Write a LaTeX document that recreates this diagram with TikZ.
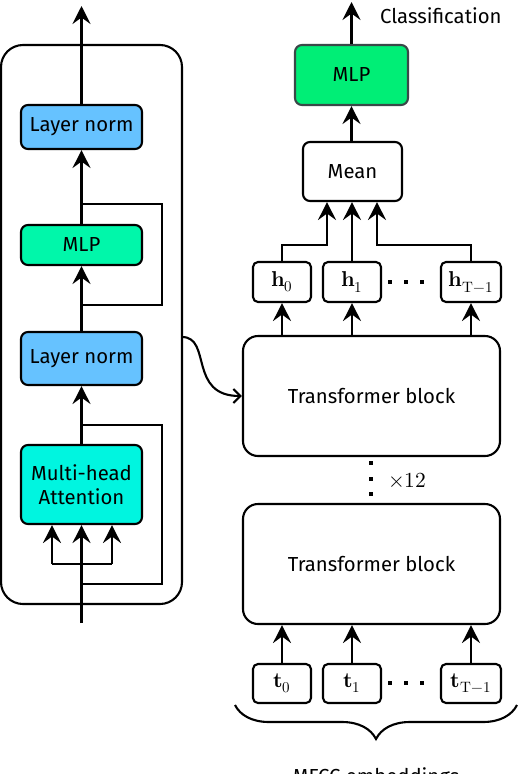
\documentclass[tikz,border=0pt]{standalone}
\usepackage{fontspec}
\usepackage{unicode-math}
\setmainfont{Fira Sans}
\setmathfont{Latin Modern Math}
\usetikzlibrary{arrows.meta,decorations.pathreplacing,calc}
\definecolor{lnblue}{HTML}{66C2FF}
\definecolor{mlpmint}{HTML}{00F7AA}
\definecolor{mhacyan}{HTML}{00F5E0}
\definecolor{mlpgreen}{HTML}{00EE76}
\definecolor{mlpedge}{HTML}{3A4848}
\tikzset{
  box/.style={draw, line width=2.1pt, rounded corners=7pt, inner sep=0pt, align=center,
     font=\fontsize{20.3}{24}\selectfont},
  bigbox/.style={box, rounded corners=15pt},
  tok/.style={draw, line width=2.1pt, rounded corners=5pt, inner sep=0pt,
     minimum height=39pt, font=\fontsize{21.5}{25}\selectfont},
  arr/.style={-{Stealth[length=18pt,width=18pt,inset=6.5pt]}, line width=2.1pt},
  ln/.style={line width=2.1pt},
  dotmark/.style={fill=black, minimum size=4.5pt, inner sep=0pt, draw=none},
  lbl/.style={font=\fontsize{20.3}{24}\selectfont, inner sep=0pt},
}
\begin{document}
\begin{tikzpicture}[x=1pt,y=-1pt]
\useasboundingbox (0,0) rectangle (518,774);
% left panel
\node[draw, line width=2.1pt, rounded corners=22pt, minimum width=181pt, minimum height=559pt] (outer) at (91.5,324.5) {};
\coordinate (in) at (81.5,623);
\coordinate (out) at (81.5,6);
\coordinate (r1a) at (81.5,584);
\coordinate (r1b) at (81.5,425);
\coordinate (r2a) at (81.5,305);
\coordinate (r2b) at (81.5,204);
\coordinate (sL) at (52,564);
\coordinate (sR) at (112,564);
\coordinate (c1) at (182,337);
\draw[ln] (r1a) -- ++(80.5,0) |- (r1b);
\draw[ln] (r2a) -- ++(80.5,0) |- (r2b);
\node[box, fill=lnblue, minimum width=121pt, minimum height=44pt] (ln1) at (81.5,127) {Layer norm};
\node[box, fill=mlpmint, minimum width=121pt, minimum height=40pt] (mlpl) at (81.5,245) {MLP};
\node[box, fill=lnblue, minimum width=121pt, minimum height=53pt] (ln2) at (81.5,358.5) {Layer norm};
\node[box, fill=mhacyan, minimum width=121pt, minimum height=79pt] (mha) at (81.5,484.5) {Multi-head\\[0pt]Attention};
\draw[arr] (in) -- (mha.south);
\draw[ln] (sL) -- (sR);
\draw[arr] (sL) -- (sL |- mha.south);
\draw[arr] (sR) -- (sR |- mha.south);
\draw[arr] (mha.north) -- (ln2.south);
\draw[arr] (ln2.north) -- (mlpl.south);
\draw[arr] (mlpl.north) -- (ln1.south);
\draw[arr] (ln1.north) -- (out);
% right panel
\node[bigbox, minimum width=257pt, minimum height=120pt] (tb1) at (371.5,396) {Transformer block};
\node[bigbox, minimum width=257pt, minimum height=120pt] (tb2) at (371.5,564) {Transformer block};
\draw[ln, -{Straight Barb[length=7pt,width=14pt]}] (c1) .. controls (212,337) and (188,396) .. (tb1.west);
\node[tok, minimum width=58pt] (t0) at (282,683.5) {$\symbf{t}_0$};
\node[tok, minimum width=58pt] (t1) at (352,683.5) {$\symbf{t}_1$};
\node[tok, minimum width=60pt] (tT) at (471,683.5) {$\symbf{t}_{\symup{T}-1}$};
\foreach \n in {t0,t1,tT} \draw[arr] (\n.north) -- (\n.north |- tb2.south);
\node[tok, minimum width=58pt, minimum height=40pt] (h0) at (282,282) {$\symbf{h}_0$};
\node[tok, minimum width=58pt, minimum height=40pt] (h1) at (352,282) {$\symbf{h}_1$};
\node[tok, minimum width=60pt, minimum height=40pt] (hT) at (471,282) {$\symbf{h}_{\symup{T}-1}$};
\foreach \n in {h0,h1,hT} \draw[arr] (\n |- tb1.north) -- (\n.south);
\node[box, minimum width=99pt, minimum height=59pt] (mean) at (352.5,171.5) {Mean};
\node[box, fill=mlpgreen, draw=mlpedge, minimum width=113pt, minimum height=60pt] (mlpr) at (351.5,75) {MLP};
\coordinate (mL) at (327,245);
\coordinate (mR) at (377,245);
\coordinate (top) at (351.5,2);
\draw[arr] (h0.north) |- (mL) -- (mL |- mean.south);
\draw[arr] (h1.north) -- (h1.north |- mean.south);
\draw[arr] (hT.north) |- (mR) -- (mR |- mean.south);
\draw[arr] (mlpr.north |- mean.north) -- (mlpr.south);
\draw[arr] (mlpr.north) -- (top);
\node[lbl, anchor=west] (cls) at (380,16) {Classification};
% dots
\foreach \x in {390,406,422} {\node[dotmark] at (\x,282) {}; \node[dotmark] at (\x,683) {};}
\foreach \y in {463,479,494} \node[dotmark] at (371,\y) {};
\node[inner sep=0pt, anchor=west, font=\fontsize{21.5}{25}\selectfont] (rep) at (388,480) {$\times 12$};
% brace
\coordinate (bL) at (235,705);
\coordinate (bR) at (517,705);
\draw[ln, decorate, decoration={brace, mirror, amplitude=34pt}] (bL) -- (bR);
\node[lbl, anchor=base] (mfcc) at (376,783) {MFCC embeddings};
\end{tikzpicture}
\end{document}
